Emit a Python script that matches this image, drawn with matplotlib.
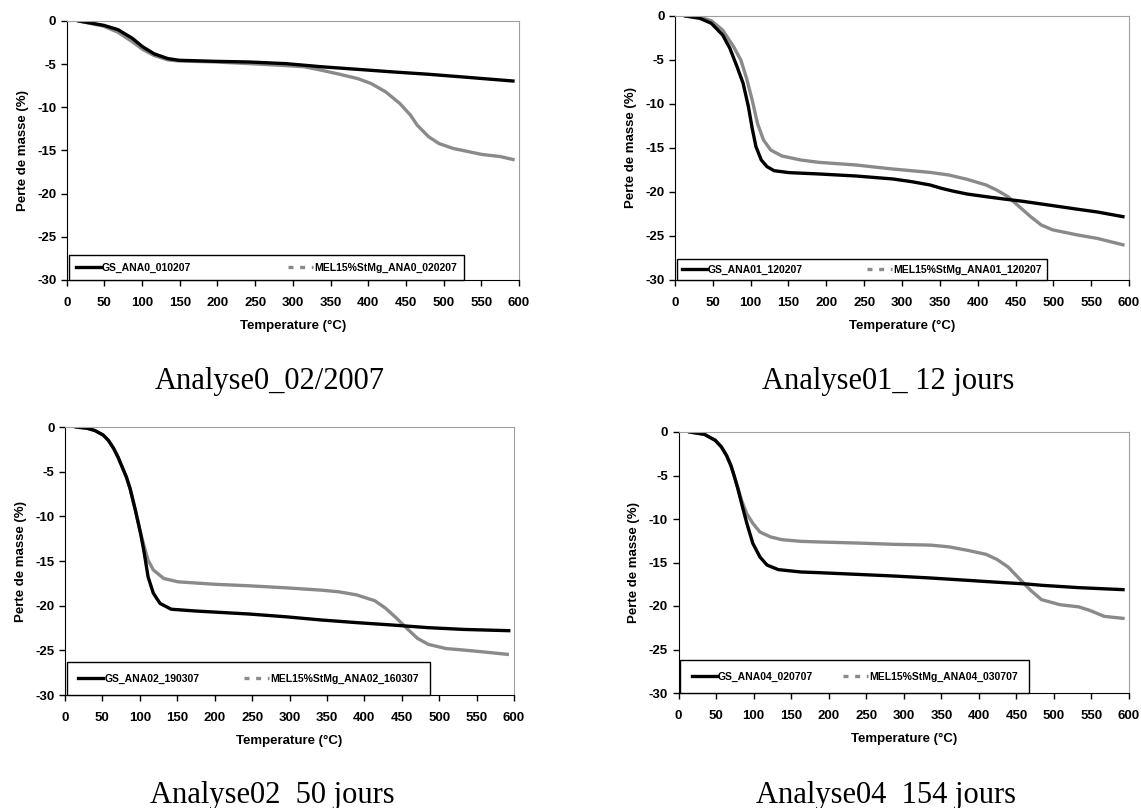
import matplotlib.pyplot as plt
from matplotlib.lines import Line2D

plt.rcParams['font.family'] = ['Liberation Sans', 'DejaVu Sans']
plt.rcParams['axes.unicode_minus'] = False

# ---- Analyse0 (02/2007) ----
t0_gs = [16, 49, 68, 87, 101, 116, 134, 149, 196, 243, 291, 338, 386, 433, 480, 528, 592]
m0_gs = [0, -0.5, -1.0, -2.0, -3.0, -3.8, -4.35, -4.55, -4.67, -4.75, -4.94, -5.3, -5.6, -5.9, -6.17, -6.5, -6.95]
t0_mel = [16, 49, 68, 87, 101, 116, 134, 149, 196, 243, 291, 315, 338, 362, 386, 404, 423, 442, 456, 465,
          480, 494, 513, 528, 551, 575, 592]
m0_mel = [0, -0.6, -1.3, -2.4, -3.3, -4.0, -4.5, -4.63, -4.74, -4.94, -5.17, -5.3, -5.7, -6.17, -6.67, -7.25,
          -8.2, -9.56, -10.9, -12.07, -13.4, -14.2, -14.77, -15.04, -15.46, -15.7, -16.04]

# ---- Analyse01 (12 jours) ----
t1_gs = [14, 33, 48, 63, 72.5, 82, 90, 97, 102, 107, 114, 121.6, 131, 151, 190, 239, 288, 313, 337, 352,
         367, 386, 411, 435, 460, 484, 509, 533, 558, 592]
m1_gs = [0, -0.27, -0.83, -2.16, -3.67, -5.76, -7.65, -10.3, -12.76, -14.85, -16.36, -17.12, -17.58, -17.8,
         -17.95, -18.18, -18.52, -18.83, -19.2, -19.58, -19.89, -20.23, -20.53, -20.8, -21.06, -21.36,
         -21.67, -21.97, -22.27, -22.8]
t1_mel = [14, 33, 48, 63, 77.5, 87, 94.6, 102, 109, 117, 126.5, 141, 166, 190, 239, 288, 337, 362, 386, 411,
          425, 440, 455, 470, 484, 499, 533, 558, 592]
m1_mel = [0, -0.15, -0.53, -1.6, -3.5, -5.0, -7.08, -9.55, -12.2, -14.1, -15.23, -15.9, -16.36, -16.63,
          -16.93, -17.39, -17.77, -18.07, -18.56, -19.2, -19.77, -20.53, -21.67, -22.8, -23.75, -24.3, -24.9,
          -25.27, -26.0]

# ---- Analyse02 (50 jours) ----
t2_gs = [15, 30, 40, 51, 58, 65, 71, 77, 82, 87, 94, 101, 106, 111, 118, 127, 142, 175, 247, 294.5, 342,
         390, 438, 485, 533, 593]
m2_gs = [0, -0.15, -0.4, -0.9, -1.5, -2.4, -3.4, -4.6, -5.6, -6.9, -9.3, -11.9, -14.16, -16.77, -18.6,
         -19.75, -20.4, -20.6, -20.94, -21.24, -21.6, -21.9, -22.17, -22.46, -22.66, -22.8]
t2_mel = [15, 30, 40, 51, 58, 65, 71, 77, 82, 87, 94, 101, 106, 111, 118, 132, 151, 199, 247, 294.5, 342,
          366, 390, 414, 428.6, 443, 457, 471, 485.5, 509, 533, 557, 591]
m2_mel = [0, -0.15, -0.4, -0.9, -1.5, -2.4, -3.4, -4.6, -5.6, -6.9, -9.3, -11.9, -13.4, -14.9, -16.0,
          -16.96, -17.33, -17.6, -17.78, -18.0, -18.26, -18.45, -18.8, -19.45, -20.3, -21.4, -22.55, -23.66,
          -24.33, -24.8, -24.97, -25.16, -25.45]

# ---- Analyse04 (154 jours) ----
t4_gs = [15, 34.5, 49, 57, 64, 70, 74, 79, 84, 91, 99, 108.5, 118, 133, 163, 187.5, 237, 286, 335.5, 385,
         434, 464, 483.5, 533, 592]
m4_gs = [0, -0.27, -0.96, -1.7, -2.7, -3.9, -5.0, -6.5, -8.2, -10.5, -12.8, -14.37, -15.3, -15.82, -16.09,
         -16.17, -16.36, -16.55, -16.78, -17.05, -17.32, -17.47, -17.62, -17.89, -18.12]
t4_mel = [15, 34.5, 49, 57, 64, 70, 74, 79, 84, 91, 99, 108.5, 123, 138, 163, 187.5, 237, 286, 335.5, 360,
          385, 409.5, 424, 439, 454, 469, 483.5, 508, 533, 547.6, 567, 592]
m4_mel = [0, -0.27, -0.96, -1.7, -2.7, -3.9, -5.0, -6.4, -7.85, -9.4, -10.5, -11.5, -12.07, -12.38,
          -12.57, -12.64, -12.76, -12.91, -13.0, -13.2, -13.6, -14.06, -14.64, -15.52, -16.86, -18.2,
          -19.27, -19.85, -20.1, -20.5, -21.19, -21.42]

panels = [
    (t0_gs, m0_gs, t0_mel, m0_mel, 'GS_ANA0_010207', 'MEL15%StMg_ANA0_020207', 'Analyse0_02/2007'),
    (t1_gs, m1_gs, t1_mel, m1_mel, 'GS_ANA01_120207', 'MEL15%StMg_ANA01_120207', 'Analyse01_ 12 jours'),
    (t2_gs, m2_gs, t2_mel, m2_mel, 'GS_ANA02_190307', 'MEL15%StMg_ANA02_160307', 'Analyse02  50 jours'),
    (t4_gs, m4_gs, t4_mel, m4_mel, 'GS_ANA04_020707', 'MEL15%StMg_ANA04_030707', 'Analyse04  154 jours'),
]

# axes rectangles in pixels (left, top, right, bottom), legend box sizes, caption positions
W, H = 1141, 808
rects = [(66.7, 21, 519, 280), (675, 16, 1129, 280), (65, 427, 514, 695), (678.5, 432, 1129, 693)]
legend_w = [0.875, 0.815, 0.81, 0.775]
legend_pad = [0.7, 0.5, 1.1, 1.1]
captions = [(270, 389), (888, 389), (272, 803), (886, 803)]

fig = plt.figure(figsize=(W / 100, H / 100), dpi=100)

for i, (tg, mg, tm, mm, lab_g, lab_m, cap) in enumerate(panels):
    x0, y0, x1, y1 = rects[i]
    ax = fig.add_axes([x0 / W, 1 - y1 / H, (x1 - x0) / W, (y1 - y0) / H])
    ax.plot(tm, mm, color='#8a8a8a', lw=2.4)
    ax.plot(tg, mg, color='black', lw=2.4)

    ax.set_xlim(0, 600)
    ax.set_ylim(-30, 0)
    ax.set_xticks(range(0, 601, 50))
    ax.set_yticks(range(-30, 1, 5))
    ax.tick_params(direction='out', length=4, width=1, labelsize=9.5)
    ax.tick_params(axis='x', pad=8)
    for lbl in ax.get_xticklabels() + ax.get_yticklabels():
        lbl.set_fontweight('bold')
    for s in ['top', 'right']:
        ax.spines[s].set_color('#a0a0a0')
    for s in ['left', 'bottom']:
        ax.spines[s].set_color('black')
    ax.set_xlabel('Temperature (°C)', fontsize=9.5, fontweight='bold', labelpad=8)
    ax.set_ylabel('Perte de masse (%)', fontsize=9.5, fontweight='bold', labelpad=6)

    handles = [Line2D([], [], color='black', lw=2.4),
               Line2D([], [], color='#8a8a8a', lw=2.4, linestyle=(0, (1.5, 2)))]
    leg = ax.legend(handles, [lab_g, lab_m], loc='lower left', ncol=2, mode='expand',
                    bbox_to_anchor=(0.004, 0, legend_w[i], 0.1), borderaxespad=0,
                    borderpad=legend_pad[i], fancybox=False, edgecolor='black', framealpha=1,
                    handlelength=2.4, handletextpad=0.1, prop={'size': 7.5, 'weight': 'bold'})
    leg.get_frame().set_linewidth(1)

    cx, cy = captions[i]
    fig.text(cx / W, 1 - cy / H, cap, ha='center', va='baseline',
             fontsize=22, family='Liberation Serif')

fig.savefig('out.png', dpi=100)
